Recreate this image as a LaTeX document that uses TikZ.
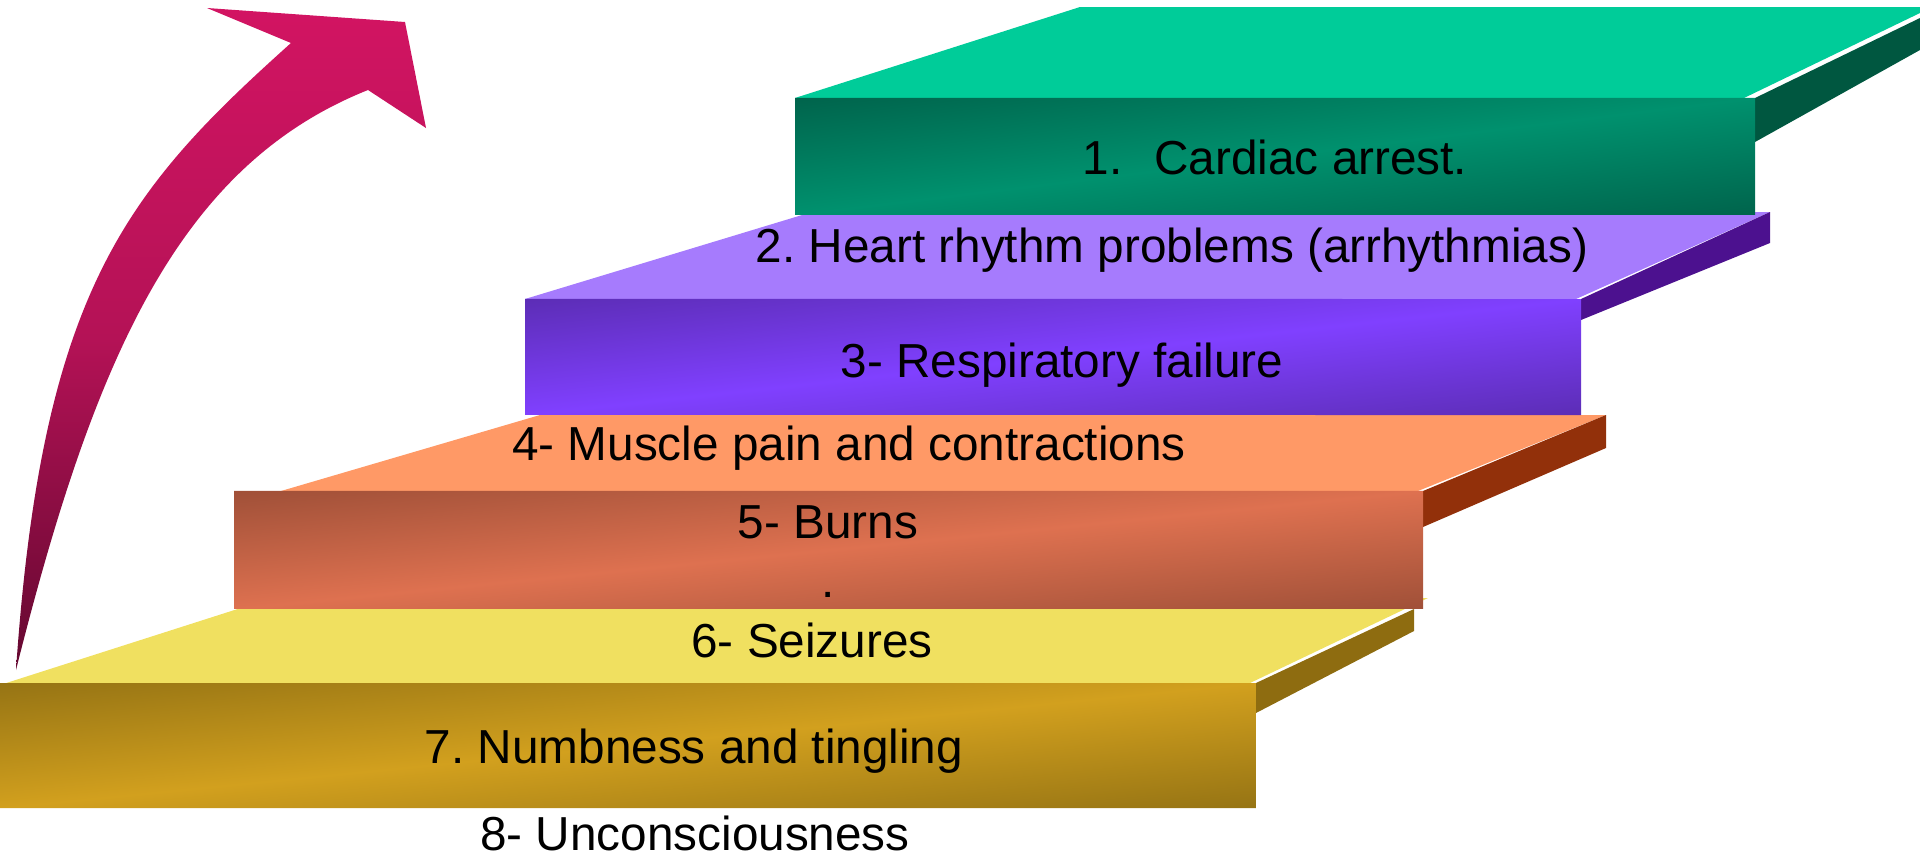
\documentclass[tikz,border=0pt]{standalone}
\usepackage{color}
\usepackage{tikz}
\usepackage{fontspec}
\setmainfont{Liberation Sans}
\frenchspacing
\definecolor{arrowtop}{RGB}{210,20,98}
\definecolor{arrowmid}{RGB}{180,18,86}
\definecolor{arrowbot}{RGB}{100,8,48}
\definecolor{greentop}{RGB}{0,204,153}
\definecolor{greenside}{RGB}{0,87,64}
\definecolor{greendark}{RGB}{0,100,76}
\definecolor{greenlight}{RGB}{0,145,110}
\definecolor{purpletop}{RGB}{166,123,253}
\definecolor{purpleside}{RGB}{76,17,143}
\definecolor{purpledark}{RGB}{92,45,182}
\definecolor{purplelight}{RGB}{128,64,255}
\definecolor{orangetop}{RGB}{255,153,102}
\definecolor{orangeside}{RGB}{146,48,10}
\definecolor{orangedark}{RGB}{160,80,56}
\definecolor{orangelight}{RGB}{222,113,80}
\definecolor{yellowtop}{RGB}{240,224,96}
\definecolor{yellowside}{RGB}{142,108,16}
\definecolor{yellowdark}{RGB}{150,116,20}
\definecolor{yellowlight}{RGB}{210,160,30}

\begin{document}
\begin{tikzpicture}[x=1pt,y=-1pt,
  stepfront/.style n args={3}{top color=#1,bottom color=#1,middle color=#2,transform canvas={yslant=#3}},
  steptext/.style={font=\fontsize{47.7}{59}\selectfont,inner sep=0pt,anchor=base}]
\useasboundingbox (0,0) rectangle (1920,857);
% objects at depth 400:
\path[fill=yellowtop] (0,685) -- (272,598) -- (1428,598) -- (1250,683) -- cycle;
\path[fill=yellowside] (1256,683) -- (1414,609) -- (1414,631) -- (1256,713) -- cycle;
\path[stepfront={yellowdark}{yellowlight}{0.09952}] (0,683) -- (1256,808) -- (1256,933) -- (0,808) -- cycle;
% objects at depth 300:
\path[fill=orangetop] (281,491) -- (540,415) -- (1606,415) -- (1418,491) -- cycle;
\path[fill=orangeside] (1423,491) -- (1606,415) -- (1606,448) -- (1423,527) -- cycle;
\path[stepfront={orangedark}{orangelight}{0.09924}] (234,514.2) -- (1423,632.2) -- (1423,750.2) -- (234,632.2) -- cycle;
% objects at depth 200:
\path[fill=purpletop] (525,299) -- (812,212) -- (1770,212) -- (1576,299) -- cycle;
\path[fill=purpleside] (1581,299) -- (1770,212) -- (1770,243) -- (1581,320) -- cycle;
\path[stepfront={purpledark}{purplelight}{0.1098}] (525,356.6) -- (1581,472.6) -- (1581,588.6) -- (525,472.6) -- cycle;
% objects at depth 100:
\path[fill=greentop] (795,98) -- (1080,7) -- (1920,7) -- (1920,13) -- (1744,98) -- cycle;
\path[fill=greenside] (1755,98) -- (1920,18) -- (1920,50) -- (1755,142) -- cycle;
\path[stepfront={greendark}{greenlight}{0.1219}] (795,194.9) -- (1755,311.9) -- (1755,428.9) -- (795,311.9) -- cycle;
% objects at depth 50:
\path[top color=arrowtop,bottom color=arrowbot,middle color=arrowmid]
  (16,670) .. controls (42,290) and (127,190) .. (291,43)
  -- (207,8) -- (405,22) -- (426,128) -- (368,90)
  .. controls (180,165) and (95,355) .. (16,670) -- cycle;
% texts:
\node[steptext] (cardiac) at (1275,174) {1.\hspace{0.67em}Cardiac arrest.};
\node[steptext] (rhythm) at (1172,262) {2. Heart rhythm problems (arrhythmias)};
\node[steptext] (respiratory) at (1062,377) {3- Respiratory failure};
\node[steptext] (muscle) at (849,460) {4- Muscle pain and contractions};
\node[steptext,align=center] (burns) at (828,597) {5- Burns\\.};
\node[steptext] (seizures) at (812,657) {6- Seizures};
\node[steptext] (numbness) at (694,763) {7. Numbness and tingling};
\node[steptext] (unconscious) at (695,850) {8- Unconsciousness};
\end{tikzpicture}
\end{document}
